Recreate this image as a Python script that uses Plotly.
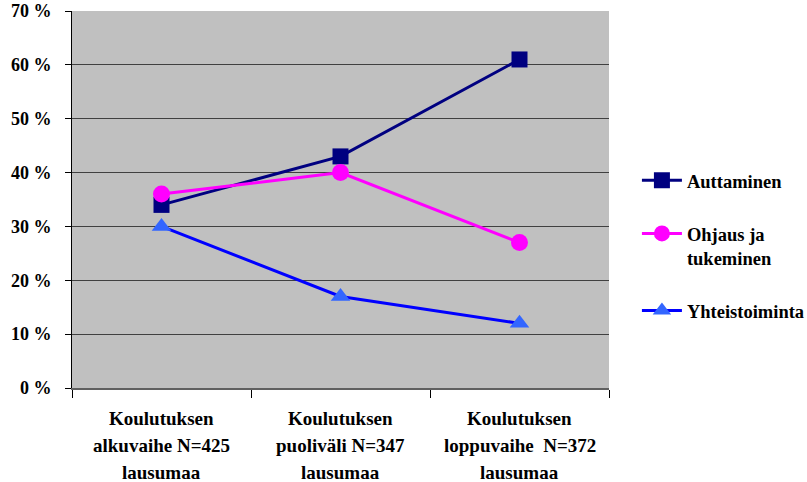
import plotly.graph_objects as go

# Category labels (one list per text line) and series values in percent
stage_line1 = ["Koulutuksen", "Koulutuksen", "Koulutuksen"]
stage_line2 = ["alkuvaihe N=425", "puoliväli N=347", "loppuvaihe  N=372"]
stage_line3 = ["lausumaa", "lausumaa", "lausumaa"]

auttaminen = [34, 43, 61]
ohjaus = [36, 40, 27]
yhteistoiminta = [30, 17, 12]

y_ticks = [0, 10, 20, 30, 40, 50, 60, 70]
y_tick_text = [f"{v} %" for v in y_ticks]

x = list(range(len(stage_line1)))
FONT = "Liberation Serif"

fig = go.Figure()
fig.add_trace(go.Scatter(
    x=x, y=auttaminen, name="<b>Auttaminen</b>", mode="lines+markers",
    line=dict(color="#000080", width=3),
    marker=dict(symbol="square", size=16, color="#000080"),
    legendgroup="a",
))
fig.add_trace(go.Scatter(
    x=x, y=ohjaus, name="<b>Ohjaus ja<br>tukeminen</b>", mode="lines+markers",
    line=dict(color="#FF00FF", width=3),
    marker=dict(symbol="circle", size=17, color="#FF00FF"),
    legendgroup="b",
))
fig.add_trace(go.Scatter(
    x=x, y=yhteistoiminta, name="<b>Yhteistoiminta</b>", mode="lines+markers",
    line=dict(color="#0000FF", width=3),
    marker=dict(symbol="triangle-up", size=17, color="#3366FF"),
    legendgroup="c",
))

# Multi-line category labels with wide line spacing
for i in x:
    for k, txt in enumerate([stage_line1[i], stage_line2[i], stage_line3[i]]):
        fig.add_annotation(
            x=i, y=0, xref="x", yref="paper", text=f"<b>{txt}</b>", showarrow=False,
            yanchor="middle", yshift=-30 - 27 * k,
            font=dict(family=FONT, size=19, color="black"),
        )

fig.update_layout(
    width=807, height=482,
    margin=dict(l=72, r=198, t=11, b=94, autoexpand=False),
    paper_bgcolor="white", plot_bgcolor="#C0C0C0",
    font=dict(family=FONT, size=18, color="black"),
    legend=dict(
        x=1.052, y=0.6, xanchor="left", yanchor="top",
        traceorder="grouped", tracegroupgap=26, valign="top",
        font=dict(family=FONT, size=18.5, color="black"),
        itemwidth=40, bgcolor="rgba(0,0,0,0)",
    ),
    showlegend=True,
)
fig.update_xaxes(
    range=[-0.5, 2.5], tickvals=x, ticktext=["", "", ""], ticks="",
    showgrid=False, zeroline=False, automargin=False,
    showline=True, linecolor="#606060", linewidth=2,
    minor=dict(tickvals=[-0.5, 0.5, 1.5, 2.5], ticks="outside", ticklen=8,
               tickcolor="black", showgrid=False),
)
fig.update_yaxes(
    range=[0, 70], tickvals=y_ticks, ticktext=[f"<b>{t}</b>" for t in y_tick_text],
    ticks="outside", ticklen=6, tickcolor="black", automargin=False,
    showgrid=True, gridcolor="#404040", gridwidth=1, zeroline=False,
    showline=True, linecolor="black", linewidth=1,
    ticklabelstandoff=10,
    tickfont=dict(family=FONT, size=18, color="black"),
)

fig.write_html("out.html")
